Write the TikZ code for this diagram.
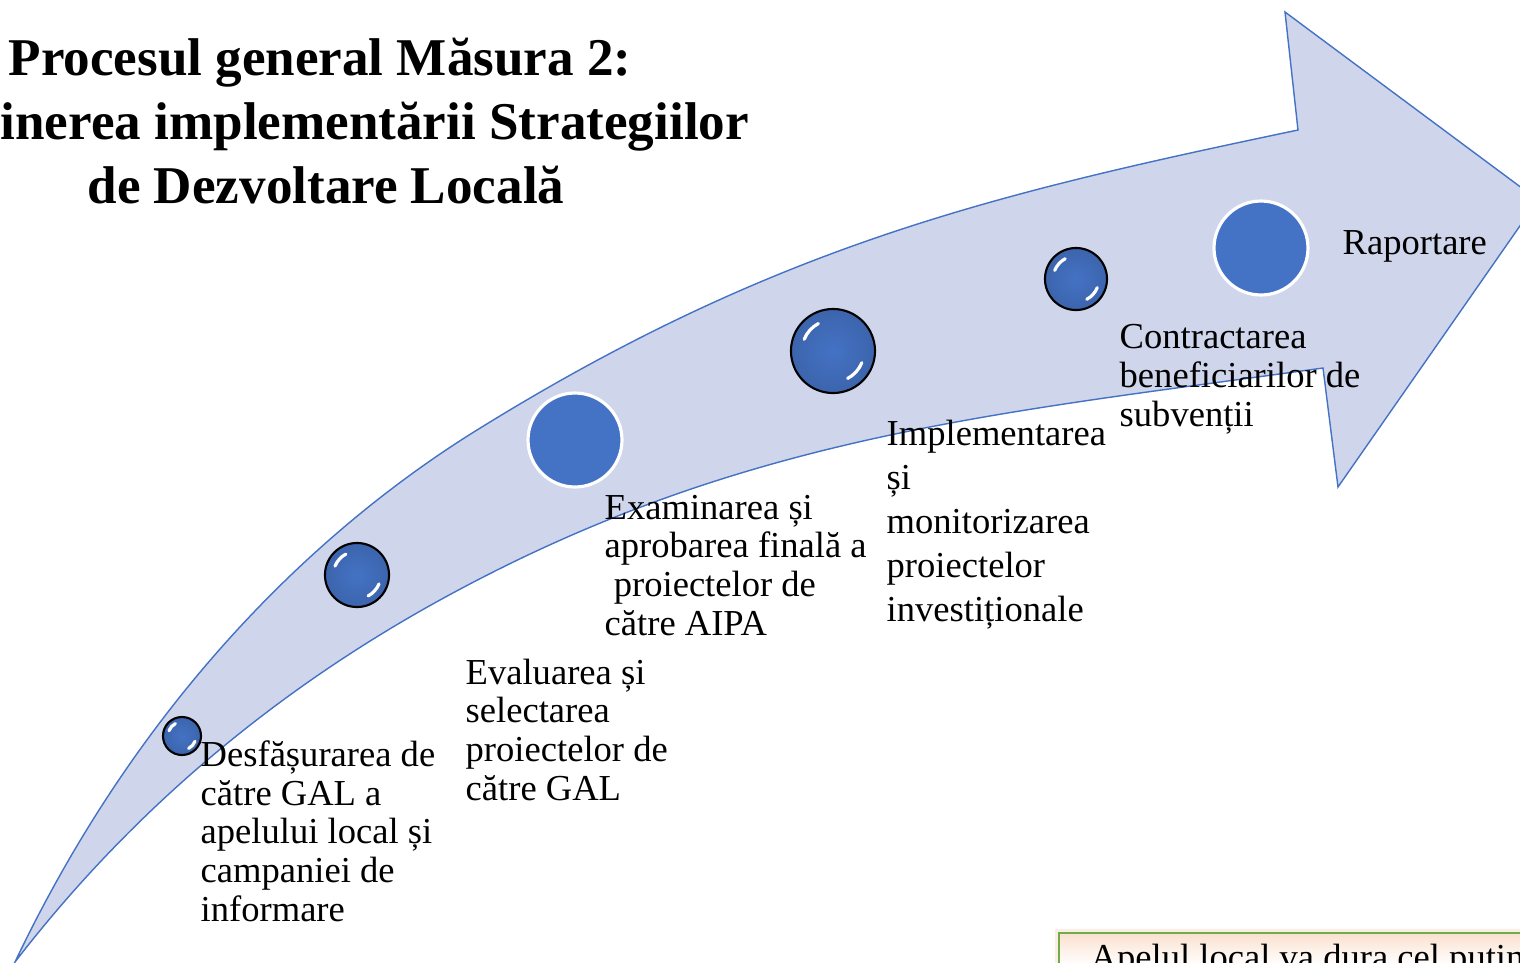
\documentclass[tikz,border=0pt]{standalone}
\usepackage{fontspec}
\setmainfont{Liberation Serif}
\usetikzlibrary{calc}
\definecolor{bandfill}{HTML}{CFD5EA}
\definecolor{bandline}{HTML}{4472C4}
\definecolor{dotblue}{HTML}{4472C4}
\definecolor{notegreen}{HTML}{70AD47}
\definecolor{notepeach}{HTML}{F9D9C3}
\newcommand\GlossDot[3]{% name, centre, radius (px)
    \node[gdot, minimum size=#3*0.02cm] (#1) at (#2) {};
    \draw[shine] ($(#1.center)!0.74!(#1.158)$) arc[start angle=158, end angle=118, radius=#3*0.0074cm];
    \draw[shine] ($(#1.center)!0.74!(#1.-22)$) arc[start angle=-22, end angle=-62, radius=#3*0.0074cm];
}

\begin{document}
\begin{tikzpicture}[x=0.01cm,y=-0.01cm,
    band/.style={fill=bandfill, draw=bandline, line width=0.4pt},
    gdot/.style={circle, inner sep=0, outer sep=0, draw=black, line width=0.6pt,
        inner color=dotblue, outer color=dotblue!88!black},
    fdot/.style={circle, inner sep=0, outer sep=0, fill=dotblue, draw=white, line width=0.9pt},
    shine/.style={white, line width=0.9pt, line cap=round},
    lbl/.style={anchor=base west, align=left, inner sep=0, font=\fontsize{10.4}{10.95}\selectfont},
    ttl/.style={anchor=base, inner sep=0, font=\bfseries\fontsize{15.1}{18.2}\selectfont}]
    \useasboundingbox (0,0) rectangle (1520,963);
    \clip (0,0) rectangle (1520,963);
    % title
    \node[ttl] (title1) at (320,75) {Procesul general Măsura 2:};
    \node[ttl, anchor=base west] (title2) at (0,139) {inerea implementării Strategiilor};
    \node[ttl] (title3) at (326,203) {de Dezvoltare Locală};
    % curved arrow
    \draw[band] (15,962) coordinate(tail) .. controls (145,689) and (327,523) .. (477,430)
        .. controls (777,244) and (998,193) .. (1298,130)
        -- (1285,12) coordinate(tipA) -- (1538,200) coordinate(tip) -- (1338,487) coordinate(tipB) -- (1323,368)
        .. controls (993,414) and (740,435) .. (440,600)
        .. controls (271,693) and (129,814) .. (tail) -- cycle;
    % dots
    \GlossDot{b1}{182,736}{19}
    \GlossDot{b2}{357,575}{32}
    \node[fdot, minimum size=94*0.01cm] (b3) at (575,440) {};
    \GlossDot{b4}{833,351}{42}
    \GlossDot{b5}{1076,279}{31}
    \node[fdot, minimum size=94*0.01cm] (b6) at (1261,248) {};
    % labels (base = last line)
    \node[lbl] (t1) at (200,921) {Desfășurarea de\\către GAL a\\apelului local și\\campaniei de\\informare};
    \node[lbl] (t2) at (465,800) {Evaluarea și\\selectarea\\proiectelor de\\către GAL};
    \node[lbl] (t3) at (604,635) {Examinarea și\\aprobarea finală a\\\hspace*{0.25em}proiectelor de\\către AIPA};
    \node[lbl, font=\fontsize{10.4}{12.5}\selectfont] (t4) at (886,621) {Implementarea\\și\\monitorizarea\\proiectelor\\investiționale};
    \node[lbl] (t5) at (1119,426) {Contractarea\\beneficiarilor de\\subvenții};
    \node[lbl] (t6) at (1342,254) {Raportare};
    % note box
    \begin{scope}
        \draw[notepeach!45, line width=2.5pt] (1059,933) rectangle (1560,1010);
        \fill[white] (1059,933) rectangle (1560,1010);
        \shade[top color=notepeach!80, bottom color=white] (1059,933) rectangle (1560,965);
        \draw[notegreen, line width=0.7pt] (1059,933) coordinate(nb) rectangle (1560,1010);
        \node[lbl] (note) at (1090,969) {Apelul local va dura cel puțin};
    \end{scope}
\end{tikzpicture}
\end{document}
